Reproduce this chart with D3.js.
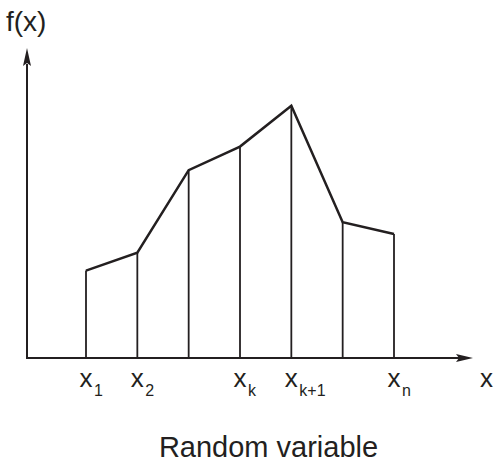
<!DOCTYPE html>
<html>
<head>
<meta charset="utf-8">
<script src="https://cdn.jsdelivr.net/npm/d3@7"></script>
<style>
  html, body { margin: 0; padding: 0; background: #fff; }
  svg { display: block; }
  text { font-family: "Liberation Sans", Arial, Helvetica, sans-serif; fill: #231f20; }
</style>
</head>
<body>
<svg id="chart" width="498" height="462"></svg>
<script>
// ---- data ----
const positions = [1, 2, 3, 4, 5, 6, 7];
const values = [0.282, 0.340, 0.606, 0.682, 0.814, 0.438, 0.400];
const tickMain = ["x", "x", "", "x", "x", "", "x"];
const tickSub = ["1", "2", "", "k", "k+1", "", "n"];
const xAxisLabel = "x";
const yAxisLabel = "f(x)";
const title = "Random variable";

// ---- layout ----
const svg = d3.select("#chart");
const ink = "#231f20";
const x = d3.scaleLinear().domain([1, 7]).range([86, 394]);
const y = d3.scaleLinear().domain([0, 1]).range([358, 48]);
const x0 = 27, y0 = y(0);
const xEnd = 473, yEnd = y(1);

// vertical lines
svg.append("g").selectAll("line").data(positions).join("line")
  .attr("x1", d => x(d)).attr("x2", d => x(d))
  .attr("y1", y0).attr("y2", (d, i) => y(values[i]))
  .attr("stroke", ink).attr("stroke-width", 1.8);

// curve
const line = d3.line().x((d, i) => x(positions[i])).y(d => y(d));
svg.append("path").datum(values)
  .attr("d", line).attr("fill", "none")
  .attr("stroke", ink).attr("stroke-width", 2.5)
  .attr("stroke-linejoin", "miter");

// axes
svg.append("line").attr("x1", x0).attr("x2", xEnd - 14).attr("y1", y0).attr("y2", y0)
  .attr("stroke", ink).attr("stroke-width", 2);
svg.append("line").attr("x1", x0).attr("x2", x0).attr("y1", y0 + 1).attr("y2", yEnd + 16)
  .attr("stroke", ink).attr("stroke-width", 2);
// arrowheads
svg.append("path")
  .attr("d", `M${xEnd},${y0} L${xEnd - 17},${y0 - 4} L${xEnd - 14},${y0} L${xEnd - 17},${y0 + 4} Z`)
  .attr("fill", ink);
svg.append("path")
  .attr("d", `M${x0},${yEnd} L${x0 - 4},${yEnd + 18} L${x0},${yEnd + 15} L${x0 + 4},${yEnd + 18} Z`)
  .attr("fill", ink);

// tick labels
const tl = svg.append("g").selectAll("g").data(positions.filter((d, i) => tickMain[i] !== "")).join("g");
tl.each(function(d) {
  const i = positions.indexOf(d);
  const g = d3.select(this);
  g.append("text").attr("x", x(d) - 6.5).attr("y", 387)
    .attr("font-size", 26).text(tickMain[i]);
  g.append("text").attr("x", x(d) + 8).attr("y", 396)
    .attr("font-size", 16).text(tickSub[i]);
});

// axis labels
svg.append("text").attr("x", 480).attr("y", 387).attr("font-size", 26).text(xAxisLabel);
svg.append("text").attr("x", 6).attr("y", 31).attr("font-size", 28).text(yAxisLabel);
svg.append("text").attr("x", 268.5).attr("y", 456.5).attr("text-anchor", "middle")
  .attr("font-size", 29).text(title);
</script>
</body>
</html>
